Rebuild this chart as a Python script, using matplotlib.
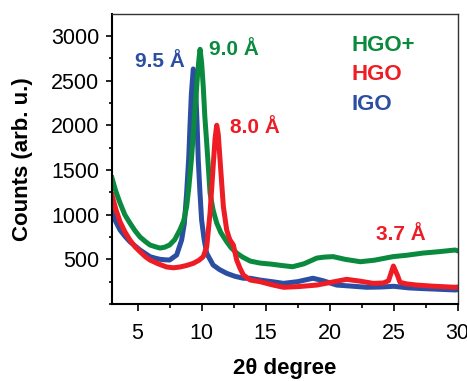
import matplotlib.pyplot as plt
from matplotlib.ticker import MultipleLocator

plt.rcParams['font.family'] = ['Liberation Sans', 'DejaVu Sans']

# HGO+ (green)
x_green = [3.0, 3.3, 3.63, 4.0, 4.4, 4.8, 5.19, 5.6, 5.97, 6.4, 6.75, 7.1, 7.5, 7.9, 8.3,
           8.6, 8.83, 9.0, 9.2, 9.35, 9.48, 9.6, 9.67, 9.8, 9.88, 10.0, 10.13, 10.25, 10.4,
           10.55, 10.66, 10.9, 11.18, 11.5, 11.96, 12.3, 12.74, 13.2, 13.8, 14.56, 15.5,
           16.3, 17.1, 18.0, 19.0, 19.6, 20.27, 21.2, 22.4, 23.5, 24.95, 26.0, 27.3, 28.5, 29.8, 30.0]
y_green = [1410, 1260, 1130, 1000, 906, 820, 750, 700, 660, 640, 626, 635, 660, 720, 828,
           930, 1090, 1300, 1610, 1900, 2170, 2400, 2540, 2750, 2850, 2700, 2430, 2100, 1800,
           1480, 1240, 1050, 906, 800, 697, 630, 570, 525, 480, 458, 445,
           430, 417, 450, 514, 525, 530, 500, 473, 490, 530, 545, 570, 585, 604, 595]

# HGO (red)
x_red = [3.0, 3.3, 3.63, 4.0, 4.4, 4.8, 5.19, 5.6, 5.97, 6.6, 7.27, 7.8, 8.3, 8.8, 9.35,
         9.8, 10.13, 10.4, 10.66, 10.9, 11.05, 11.18, 11.3, 11.44, 11.7, 11.96, 12.2, 12.48,
         12.74, 13.0, 13.26, 13.8, 14.56, 15.5, 16.4, 17.6, 19.0, 20.2, 21.33, 22.4, 23.4,
         24.2, 24.6, 24.98, 25.3, 25.5, 26.0, 26.8, 28.0, 29.8, 30.0]
y_red = [1220, 1060, 920, 810, 716, 640, 585, 530, 492, 450, 414, 405, 414, 430, 455,
         490, 530, 641, 1018, 1536, 1850, 2000, 1900, 1611, 1089, 828, 720, 660,
         492, 400, 325, 268, 250, 215, 187, 195, 212, 245, 276, 255, 231,
         235, 260, 425, 320, 242, 225, 212, 200, 187, 190]

# IGO (blue)
x_blue = [3.0, 3.3, 3.63, 4.0, 4.4, 4.8, 5.19, 5.6, 5.97, 6.4, 6.75, 7.1, 7.5, 8.05, 8.44,
          8.65, 8.83, 9.0, 9.09, 9.2, 9.35, 9.45, 9.55, 9.65, 9.74, 9.87, 10.0, 10.2, 10.4,
          10.9, 11.4, 11.96, 12.6, 13.26, 13.8, 14.56, 15.5, 16.4, 17.5, 18.7, 19.5, 20.55,
          21.7, 22.9, 24.0, 25.0, 26.2, 27.3, 28.5, 29.8, 30.0]
y_blue = [1030, 920, 828, 760, 697, 650, 604, 565, 530, 512, 500, 495, 492, 548, 716,
          900, 1240, 1650, 1984, 2350, 2630, 2550, 2358, 2000, 1611, 1250, 940, 720, 567,
          436, 385, 343, 310, 288, 288, 268, 250, 231, 250, 288, 260, 212,
          200, 187, 190, 198, 180, 172, 165, 157, 160]

c_green = '#0a8a3e'
c_red = '#ee1c25'
c_blue = '#2b4ea3'

fig = plt.figure(figsize=(4.67, 3.81), dpi=100)
ax = fig.add_axes([0.2398, 0.2021, 0.7402, 0.7612])

ax.plot(x_blue, y_blue, color=c_blue, lw=3.6, solid_joinstyle='round')
ax.plot(x_green, y_green, color=c_green, lw=3.6, solid_joinstyle='round')
ax.plot(x_red, y_red, color=c_red, lw=3.6, solid_joinstyle='round')

ax.set_xlim(3, 30)
ax.set_ylim(0, 3245)

ax.xaxis.set_major_locator(MultipleLocator(5))
ax.xaxis.set_minor_locator(MultipleLocator(2.5))
ax.yaxis.set_major_locator(MultipleLocator(500))
ax.yaxis.set_minor_locator(MultipleLocator(250))
ax.set_yticks([500, 1000, 1500, 2000, 2500, 3000])

ax.tick_params(axis='both', which='major', labelsize=15.5, width=1.2, direction='out')
ax.tick_params(axis='y', which='major', length=4, pad=5)
ax.tick_params(axis='x', which='major', length=5, pad=9)
ax.tick_params(axis='y', which='minor', length=2.5, width=1.2)
ax.tick_params(axis='x', which='minor', length=3, width=1.2)

for side in ['left', 'bottom']:
    ax.spines[side].set_linewidth(1.5)
for side in ['top', 'right']:
    ax.spines[side].set_linewidth(1.0)
    ax.spines[side].set_color('#333333')

ax.set_xlabel('2θ degree', fontsize=16, fontweight='bold')
ax.set_ylabel('Counts (arb. u.)', fontsize=16, fontweight='bold')
ax.xaxis.set_label_coords(0.5, -0.185)
ax.yaxis.set_label_coords(-0.228, 0.5)

ax.text(4.8, 2652, '9.5 Å', color=c_blue, fontsize=15, fontweight='bold')
ax.text(10.6, 2786, '9.0 Å', color=c_green, fontsize=15, fontweight='bold')
ax.text(12.2, 1910, '8.0 Å', color=c_red, fontsize=15, fontweight='bold')
ax.text(23.6, 716, '3.7 Å', color=c_red, fontsize=15, fontweight='bold')

ax.text(21.73, 2835, 'HGO+', color=c_green, fontsize=16, fontweight='bold')
ax.text(21.73, 2507, 'HGO', color=c_red, fontsize=16, fontweight='bold')
ax.text(21.73, 2171, 'IGO', color=c_blue, fontsize=16, fontweight='bold')

fig.savefig('out.png', dpi=100)
